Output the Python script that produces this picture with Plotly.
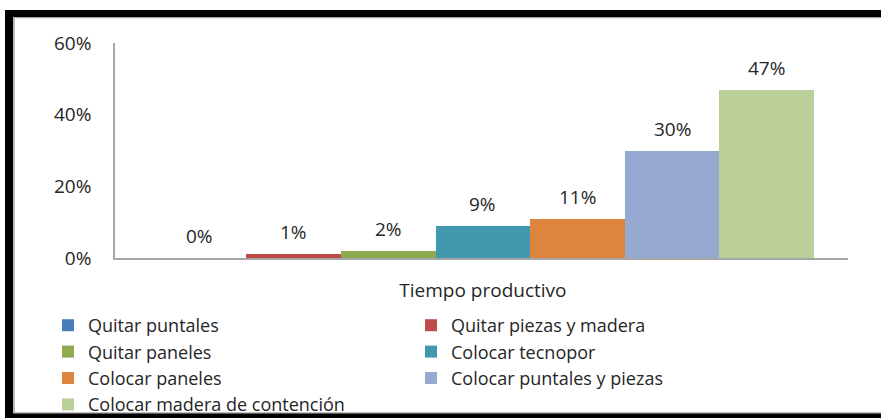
import plotly.graph_objects as go

# Share of productive time per formwork activity
activities = [
    "Quitar puntales",
    "Quitar piezas y madera",
    "Quitar paneles",
    "Colocar tecnopor",
    "Colocar paneles",
    "Colocar puntales y piezas",
    "Colocar madera de contención",
]
shares = [0.00, 0.01, 0.02, 0.09, 0.11, 0.30, 0.47]
colors = ["#4A7EBB", "#BE4B48", "#8FAB50", "#4198AF", "#DD843E", "#95A9D1", "#BBD099"]
category_label = "Tiempo productivo"
y_ticks = [0, 0.2, 0.4, 0.6]

W, H = 881, 418
ML, MR, MT, MB = 115, 33, 43, 160
PW, PH = W - ML - MR, H - MT - MB


def px_x(px):
    return (px - ML) / PW


def px_y(py):
    return (H - MB - py) / PH


font_family = "'Open Sans', sans-serif"
font_size = 19
legend_font_size = 18
text_color = "#262626"

fig = go.Figure()
for i, (name, val, col) in enumerate(zip(activities, shares, colors)):
    fig.add_trace(go.Bar(
        x=[i], y=[val], name=name, width=1.0,
        marker=dict(color=col, line=dict(width=0)),
        hoverinfo="skip",
    ))
    fig.add_annotation(
        x=i, y=val, xref="x", yref="y",
        text=f"{val:.0%}", showarrow=False,
        yanchor="bottom", yshift=7,
        font=dict(family=font_family, size=font_size, color=text_color),
    )

# Frame around the chart (open on the right side)
shapes = [
    dict(type="rect", xref="paper", yref="paper",
         x0=px_x(14), x1=px_x(900), y0=px_y(413), y1=px_y(17.5),
         line=dict(color="#A6A6A6", width=1.5), layer="below"),
    dict(type="line", xref="paper", yref="paper",
         x0=px_x(5), x1=px_x(900), y0=px_y(13.5), y1=px_y(13.5),
         line=dict(color="black", width=7)),
    dict(type="line", xref="paper", yref="paper",
         x0=px_x(9), x1=px_x(9), y0=px_y(10), y1=px_y(420),
         line=dict(color="black", width=8)),
    dict(type="line", xref="paper", yref="paper",
         x0=px_x(5), x1=px_x(900), y0=px_y(416.5), y1=px_y(416.5),
         line=dict(color="black", width=6)),
]

fig.update_layout(
    width=W, height=H,
    margin=dict(l=ML, r=MR, t=MT, b=MB, autoexpand=False),
    paper_bgcolor="white", plot_bgcolor="white",
    bargap=0,
    showlegend=True,
    shapes=shapes,
    font=dict(family=font_family, size=font_size, color=text_color),
    legend=dict(
        orientation="h",
        x=px_x(48), xanchor="left",
        y=px_y(307), yanchor="top",
        entrywidth=318, entrywidthmode="pixels",
        traceorder="normal",
        font=dict(family=font_family, size=legend_font_size, color=text_color),
        itemclick=False, itemdoubleclick=False,
        bgcolor="rgba(0,0,0,0)",
        tracegroupgap=0,
    ),
    xaxis=dict(
        range=[-0.89, 6.86],
        tickvals=[3], ticktext=[category_label],
        showline=True, linecolor="#A6A6A6", linewidth=1.5,
        showgrid=False, zeroline=False, ticks="",
        ticklabelstandoff=14,
        tickfont=dict(family=font_family, size=font_size, color=text_color),
        fixedrange=True,
    ),
    yaxis=dict(
        range=[0, 0.6],
        tickvals=y_ticks, tickformat=".0%",
        showline=True, linecolor="#A6A6A6", linewidth=1.5,
        showgrid=False, zeroline=False, ticks="",
        ticklabelstandoff=18,
        tickfont=dict(family=font_family, size=font_size, color=text_color),
        fixedrange=True,
    ),
)

fig.write_html("out.html", config={"displayModeBar": False})
